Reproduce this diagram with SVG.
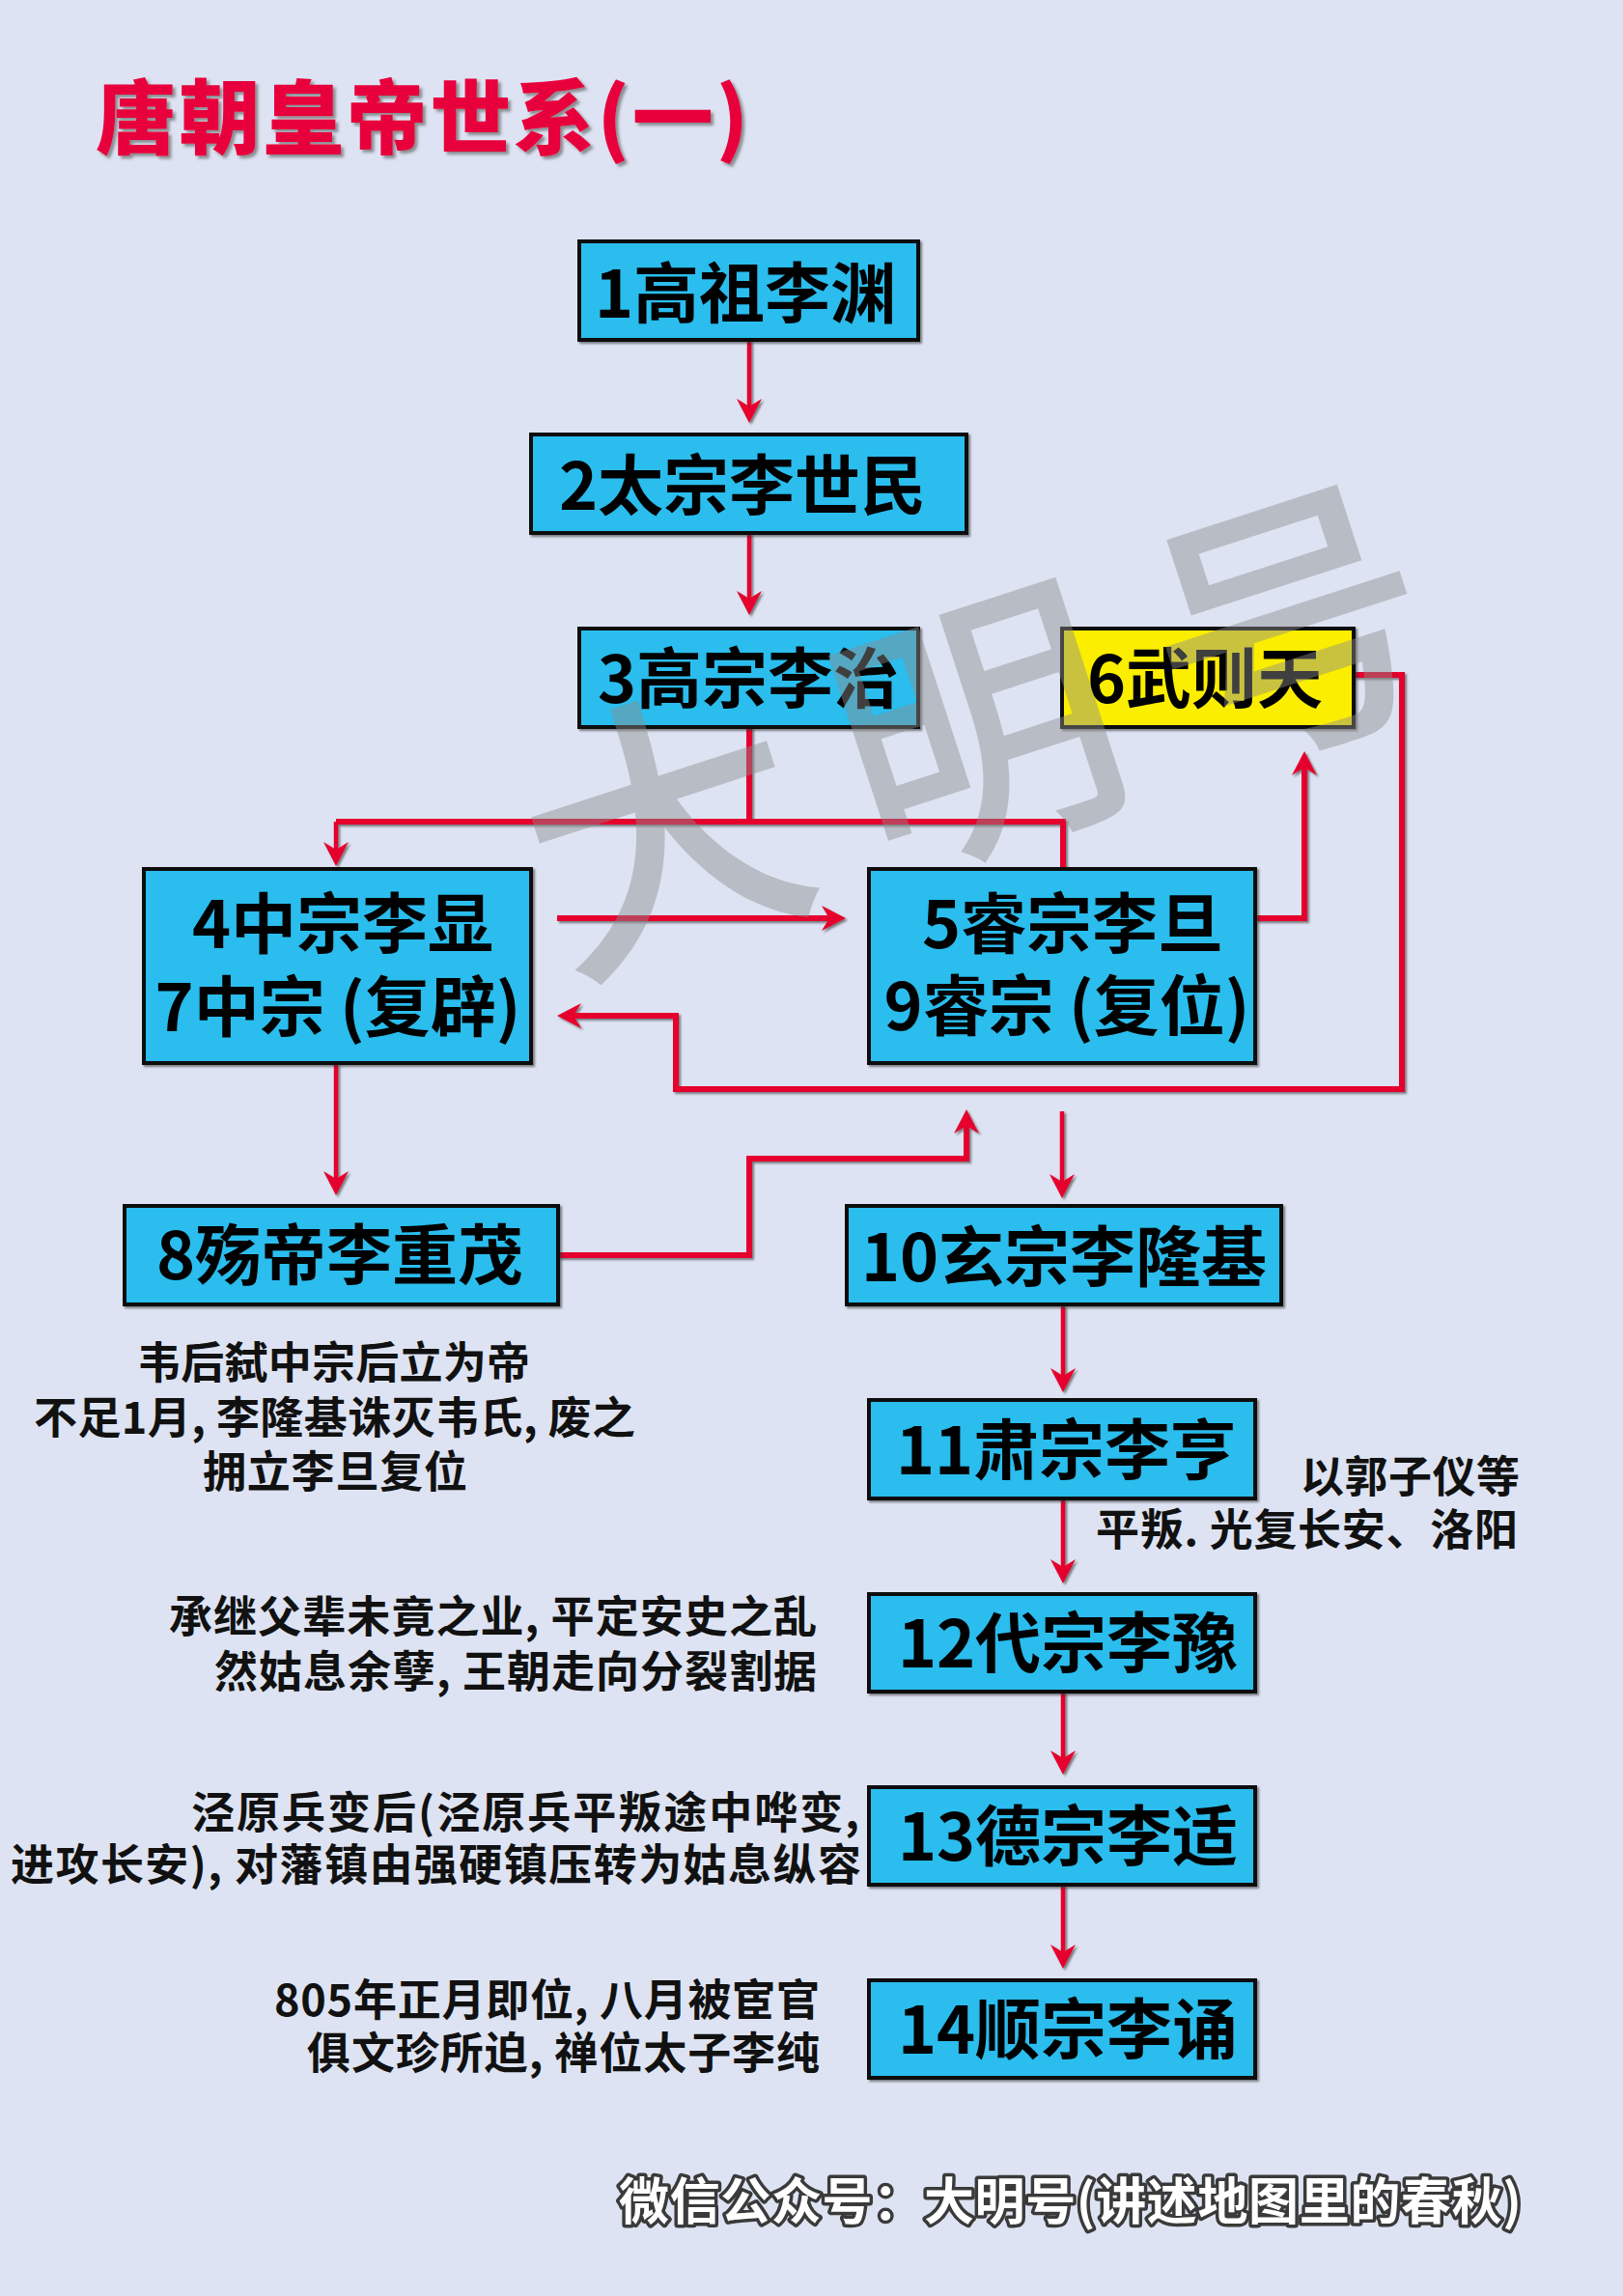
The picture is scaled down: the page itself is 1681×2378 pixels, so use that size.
<svg xmlns="http://www.w3.org/2000/svg" width="1681" height="2378" viewBox="0 0 1681 2378">
<defs>
<style>
.bg{fill:#dde3f2}
.box{fill:#2bbdee;stroke:#111;stroke-width:4}
.yel{fill:#fbee00;stroke:#111;stroke-width:4}
.bt{font-family:"Noto Sans CJK SC","Noto Sans",sans-serif;font-weight:700;font-size:68px;fill:#000;text-anchor:middle}
.an{font-family:"Noto Sans CJK SC","Noto Sans",sans-serif;font-weight:700;font-size:45px;fill:#111}
.ln{fill:none;stroke:#e5002d;stroke-width:6;stroke-linejoin:miter}
.th{stroke-width:4.5}
.title{font-family:"Noto Sans CJK SC","Noto Sans",sans-serif;font-weight:900;font-size:84px;fill:#e8003d}
.foot{font-family:"Noto Sans CJK SC","Noto Sans",sans-serif;font-weight:700;font-size:52px;fill:#fff;stroke:#3a3a3a;stroke-width:7;paint-order:stroke;stroke-linejoin:round}
.wm{font-family:"Noto Sans CJK SC",sans-serif;font-weight:500;font-size:290px;fill:#8c8c8c;fill-opacity:0.45}
</style>
<filter id="sh" x="-10%" y="-10%" width="130%" height="130%">
<feDropShadow dx="2" dy="2" stdDeviation="1.2" flood-color="#333" flood-opacity="0.6"/>
</filter>
<filter id="tsh" x="-5%" y="-10%" width="115%" height="130%">
<feDropShadow dx="3" dy="3" stdDeviation="1.5" flood-color="#444" flood-opacity="0.55"/>
</filter>
<marker id="ah" viewBox="-26 -15 30 30" refX="-12" refY="0" markerWidth="30" markerHeight="30" markerUnits="userSpaceOnUse" orient="auto">
<path d="M0,0 L-25,-13 L-17,0 L-25,13 Z" fill="#e5002d"/>
</marker>
</defs>
<rect class="bg" x="0" y="0" width="1681" height="2378"/>

<text id="title" class="title" x="99" y="153" textLength="676" filter="url(#tsh)">唐朝皇帝世系(一)</text>

<g id="connectors" filter="url(#sh)">
<path class="ln th" d="M776,352 V426" marker-end="url(#ah)"/>
<path class="ln th" d="M776,552 V625" marker-end="url(#ah)"/>
<path class="ln" d="M776,753 V851"/>
<path class="ln" d="M348,851 H1101 V900"/>
<path class="ln th" d="M348,851 V885" marker-end="url(#ah)"/>
<path class="ln" d="M577,951 H864" marker-end="url(#ah)"/>
<path class="ln" d="M1300,951 H1351 V790" marker-end="url(#ah)"/>
<path class="ln" d="M1402,699 H1452 V1128 H700 V1052 H589" marker-end="url(#ah)"/>
<path class="ln th" d="M348,1102 V1226" marker-end="url(#ah)"/>
<path class="ln" d="M578,1300 H776 V1200 H1001 V1161" marker-end="url(#ah)"/>
<path class="ln th" d="M1100,1151 V1229" marker-end="url(#ah)"/>
<path class="ln th" d="M1101,1352 V1430" marker-end="url(#ah)"/>
<path class="ln th" d="M1101,1553 V1628" marker-end="url(#ah)"/>
<path class="ln th" d="M1101,1752 V1826" marker-end="url(#ah)"/>
<path class="ln th" d="M1101,1952 V2027" marker-end="url(#ah)"/>
</g>

<g id="n1"><rect class="box" x="600" y="250" width="351" height="102" filter="url(#sh)"/><text class="bt" x="772" y="329">1高祖李渊</text></g>
<g id="n2"><rect class="box" x="550" y="450" width="451" height="102" filter="url(#sh)"/><text class="bt" x="769" y="528">2太宗李世民</text></g>
<g id="n3"><rect class="box" x="600" y="651" width="351" height="102" filter="url(#sh)"/><text class="bt" x="775" y="728">3高宗李治</text></g>
<g id="n6"><rect class="yel" x="1100" y="651" width="302" height="102" filter="url(#sh)"/><text class="bt" x="1248" y="728">6武则天</text></g>
<g id="n4"><rect class="box" x="149" y="900" width="401" height="201" filter="url(#sh)"/><text class="bt" x="355" y="982">4中宗李显</text><text class="bt" x="350" y="1068">7中宗 (复辟)</text></g>
<g id="n5"><rect class="box" x="900" y="900" width="400" height="201" filter="url(#sh)"/><text class="bt" x="1111" y="982">5睿宗李旦</text><text class="bt" x="1105" y="1067">9睿宗 (复位)</text></g>
<g id="n8"><rect class="box" x="129" y="1249" width="449" height="102" filter="url(#sh)"/><text class="bt" x="352" y="1325">8殇帝李重茂</text></g>
<g id="n10"><rect class="box" x="877" y="1249" width="450" height="102" filter="url(#sh)"/><text class="bt" x="1102" y="1327">10玄宗李隆基</text></g>
<g id="n11"><rect class="box" x="900" y="1450" width="400" height="102" filter="url(#sh)"/><text class="bt" x="1104" y="1527">11肃宗李亨</text></g>
<g id="n12"><rect class="box" x="900" y="1651" width="400" height="101" filter="url(#sh)"/><text class="bt" x="1106" y="1727">12代宗李豫</text></g>
<g id="n13"><rect class="box" x="900" y="1851" width="400" height="101" filter="url(#sh)"/><text class="bt" x="1106" y="1927">13德宗李适</text></g>
<g id="n14"><rect class="box" x="900" y="2051" width="400" height="101" filter="url(#sh)"/><text class="bt" x="1106" y="2127">14顺宗李诵</text></g>

<g id="notes">
<text class="an" x="142" y="1428" textLength="407">韦后弑中宗后立为帝</text>
<text class="an" x="35" y="1485" textLength="623">不足1月, 李隆基诛灭韦氏, 废之</text>
<text class="an" x="210" y="1541" textLength="274">拥立李旦复位</text>
<text class="an" x="1347" y="1546" textLength="227">以郭子仪等</text>
<text class="an" x="1135" y="1601" textLength="437">平叛. 光复长安、洛阳</text>
<text class="an" x="175" y="1691" textLength="671">承继父辈未竟之业, 平定安史之乱</text>
<text class="an" x="222" y="1748" textLength="624">然姑息余孽, 王朝走向分裂割据</text>
<text class="an" x="198" y="1894" textLength="692">泾原兵变后(泾原兵平叛途中哗变,</text>
<text class="an" x="11" y="1948" textLength="881">进攻长安), 对藩镇由强硬镇压转为姑息纵容</text>
<text class="an" x="284" y="2088" textLength="565">805年正月即位, 八月被宦官</text>
<text class="an" x="318" y="2143" textLength="531">俱文珍所迫, 禅位太子李纯</text>
</g>

<text id="footer" class="foot" x="641" y="2299" textLength="935">微信公众号：大明号(讲述地图里的春秋)</text>

<text id="watermark" class="wm" transform="translate(1013,758) rotate(-18)" x="25" y="105" text-anchor="middle" letter-spacing="50">大明号</text>
</svg>
